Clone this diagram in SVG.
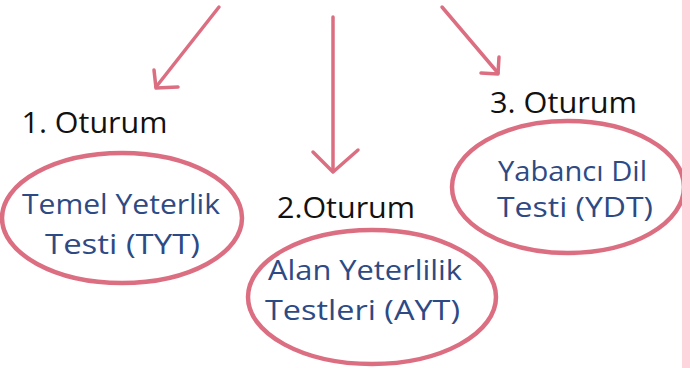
<svg xmlns="http://www.w3.org/2000/svg" width="690" height="368" viewBox="0 0 690 368">
<style>
.hd{font-family:"Comic Sans MS","Open Sans","Noto Sans",sans-serif;font-size:29px;fill:#111}
.tx{font-family:"Comic Sans MS","Open Sans","Noto Sans",sans-serif;font-size:27px;fill:#2d4a84}
.ring{fill:none;stroke:#dc6e82;stroke-width:4.5}
.arr{fill:none;stroke:#dc6e82;stroke-width:3.5;stroke-linecap:round;stroke-linejoin:round}
</style>
<rect x="0" y="0" width="690" height="368" fill="#ffffff"/>
<g id="connectors">
<path class="arr" d="M219,7 L156,87"/>
<path class="arr" d="M154,70 L156,88 L178,87"/>
<path class="arr" d="M333,17 L333,171"/>
<path class="arr" d="M313,152 L333,172 L358,150"/>
<path class="arr" d="M442,7 L498,73"/>
<path class="arr" d="M499,57 L498,74 L481,73"/>
</g>
<g id="node-oturum1">
<text class="hd" x="94.5" y="133" text-anchor="middle" textLength="146" lengthAdjust="spacingAndGlyphs">1. Oturum</text>
</g>
<g id="node-tyt">
<ellipse class="ring" cx="122" cy="218" rx="120" ry="65"/>
<text class="tx" x="121" y="214" text-anchor="middle" textLength="198" lengthAdjust="spacingAndGlyphs">Temel Yeterlik</text>
<text class="tx" x="122.5" y="254" text-anchor="middle" textLength="155" lengthAdjust="spacingAndGlyphs">Testi (TYT)</text>
</g>
<g id="node-oturum2">
<text class="hd" x="346" y="218" text-anchor="middle" textLength="138" lengthAdjust="spacingAndGlyphs">2.Oturum</text>
</g>
<g id="node-ayt">
<ellipse class="ring" cx="372" cy="297" rx="124" ry="67"/>
<text class="tx" x="365" y="280" text-anchor="middle" textLength="194" lengthAdjust="spacingAndGlyphs">Alan Yeterlilik</text>
<text class="tx" x="362.5" y="320" text-anchor="middle" textLength="195" lengthAdjust="spacingAndGlyphs">Testleri (AYT)</text>
</g>
<g id="node-oturum3">
<text class="hd" x="563.5" y="113" text-anchor="middle" textLength="147" lengthAdjust="spacingAndGlyphs">3. Oturum</text>
</g>
<g id="node-ydt">
<ellipse class="ring" cx="568" cy="187" rx="116" ry="66"/>
<text class="tx" x="572.5" y="181" text-anchor="middle" textLength="149" lengthAdjust="spacingAndGlyphs">Yabancı Dil</text>
<text class="tx" x="575" y="217" text-anchor="middle" textLength="156" lengthAdjust="spacingAndGlyphs">Testi (YDT)</text>
</g>
<rect x="682" y="0" width="8" height="368" fill="#fdd5dc"/>
</svg>
